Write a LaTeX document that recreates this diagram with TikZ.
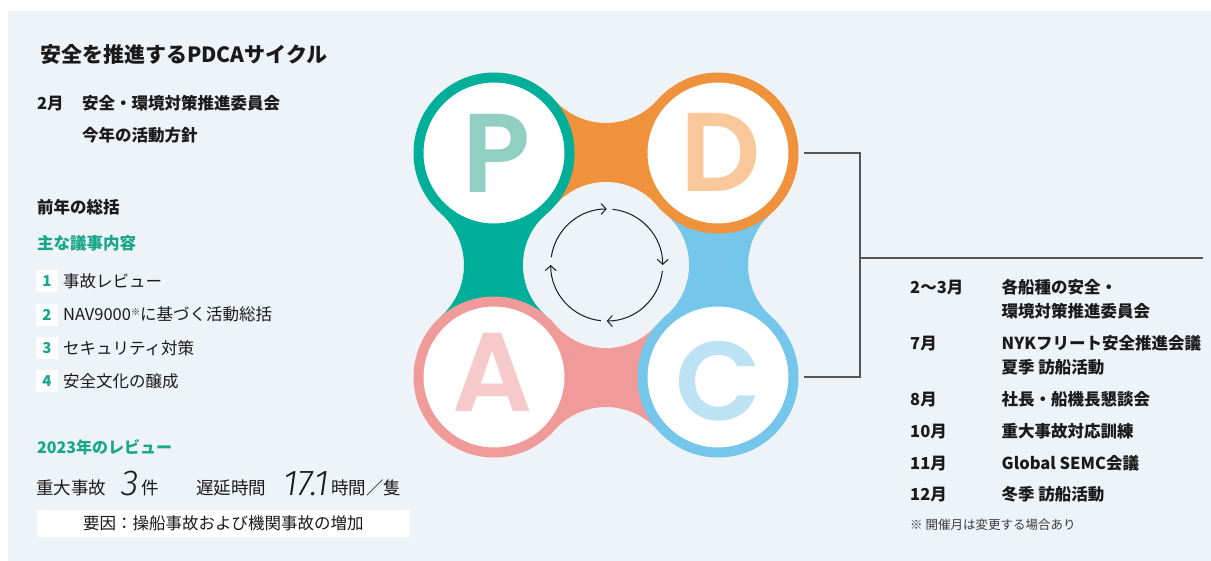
\documentclass[tikz,border=0pt]{standalone}
\usepackage{fontspec}
\setmainfont{Noto Sans CJK JP}
\newfontfamily\pdcafont{Poppins}[UprightFont={* SemiBold}]
\newfontfamily\numfont{Fira Sans}[UprightFont={* Light Italic},Numbers=Proportional]
\usetikzlibrary{arrows.meta}
\definecolor{panel}{HTML}{EEF3F8}
\definecolor{cteal}{HTML}{00AF9A}
\definecolor{corange}{HTML}{F0923B}
\definecolor{cblue}{HTML}{74C6EA}
\definecolor{cpink}{HTML}{F09B9A}
\definecolor{lP}{HTML}{92CFC3}
\definecolor{lD}{HTML}{F9C99B}
\definecolor{lA}{HTML}{F6CAC8}
\definecolor{lC}{HTML}{BDE2F4}
\definecolor{green}{HTML}{16A68A}
\definecolor{ink}{HTML}{1A1A1A}
\definecolor{conn}{HTML}{555555}
\tikzset{
  txt/.style={inner sep=0pt, anchor=base west, text=ink},
  bt/.style={txt, font=\fontsize{16.5}{18}\selectfont\bfseries},
  rt/.style={txt, font=\fontsize{16.5}{18}\selectfont},
  gt/.style={bt, text=green},
  mt/.style={txt, font=\fontsize{17.5}{19}\selectfont},
  bignum/.style={txt, font=\fontsize{36}{36}\selectfont\numfont},
  numbox/.style={fill=white, minimum width=22pt, minimum height=22pt, inner sep=0pt, text=green, font=\fontsize{15}{15}\selectfont\bfseries},
  ring/.style={circle, fill=white, line width=10pt, minimum size=151pt, inner sep=0pt},
  letter/.style={inner sep=0pt, font=\fontsize{112}{112}\selectfont\pdcafont},
  connline/.style={draw=conn, line width=1.3pt},
  cyc/.style={draw=ink, line width=1pt, -{Straight Barb[length=5pt,width=11pt]}},
}
\begin{document}
\begin{tikzpicture}[x=1pt,y=-1pt]
\useasboundingbox (0,0) rectangle (1211,560);
\fill[white] (0,0) rectangle (1211,560);
\fill[panel] (8,11) rectangle (1215,565);

% centres
\coordinate (cP) at (494,153);
\coordinate (cD) at (718,153);
\coordinate (cA) at (494,377);
\coordinate (cC) at (718,377);
\coordinate (M) at (606,265);
\coordinate (kT) at (606,54.05);
\coordinate (kL) at (395.05,265);
\coordinate (kR) at (816.95,265);
\coordinate (kB) at (606,475.95);

% connecting blobs
\fill[corange] (cP) -- ([shift={(138.54:68.95)}]kT) arc[start angle=138.54,end angle=41.46,radius=68.95] -- (cD) -- (M) -- cycle;
\fill[cteal] (cP) -- ([shift={(-48.54:68.95)}]kL) arc[start angle=-48.54,end angle=48.54,radius=68.95] -- (cA) -- (M) -- cycle;
\fill[cblue] (cD) -- ([shift={(228.54:68.95)}]kR) arc[start angle=228.54,end angle=131.46,radius=68.95] -- (cC) -- (M) -- cycle;
\fill[cpink] (cC) -- ([shift={(-41.46:68.95)}]kB) arc[start angle=-41.46,end angle=-138.54,radius=68.95] -- (cA) -- (M) -- cycle;

% central hole
\fill[panel] (555.11,205.40) -- (656.89,205.40) -- (665.60,214.11) -- (665.60,315.89) -- (656.89,324.60) -- (555.11,324.60) -- (546.40,315.89) -- (546.40,214.11) -- cycle;
\fill[panel] (606,249.04) circle[radius=67.04] (606,280.96) circle[radius=67.04] (590.04,265) circle[radius=67.04] (621.96,265) circle[radius=67.04];

% rings
\node[ring, draw=cteal] (ringP) at (cP) {};
\node[ring, draw=corange] (ringD) at (cD) {};
\node[ring, draw=cpink] (ringA) at (cA) {};
\node[ring, draw=cblue] (ringC) at (cC) {};

\node[letter, text=lP] (letP) at (497,153) {P};
\node[letter, text=lD] (letD) at (721,152) {D};
\node[letter, text=lA] (letA) at (493,372) {A};
\node[letter, text=lC] (letC) at (718.5,381) {C};

% cycle arrows
\coordinate (cyc) at (606.7,265);
\draw[cyc] ([shift={(188:56)}]cyc) arc[start angle=188,end angle=270,radius=56];
\draw[cyc] ([shift={(276:56)}]cyc) arc[start angle=276,end angle=360,radius=56];
\draw[cyc] ([shift={(6:56)}]cyc) arc[start angle=6,end angle=90,radius=56];
\draw[cyc] ([shift={(96:56)}]cyc) arc[start angle=96,end angle=180,radius=56];

% connectors
\coordinate (jD) at (860,153);
\coordinate (br) at (860,258);
\coordinate (brEnd) at (1203,258);
\draw[connline] ([xshift=5pt]ringD.east) -- (jD) |- ([xshift=5pt]ringC.east);
\draw[connline] (br) -- (brEnd);

% left texts
\node[txt, font=\fontsize{21}{22}\selectfont\bfseries] (title) at (40,62) {安全を推進するPDCAサイクル};
\node[bt] (m2) at (37,109.3) {2月};
\node[bt] (m2a) at (82,109.3) {安全・環境対策推進委員会};
\node[bt] (m2b) at (82,141.3) {今年の活動方針};
\node[bt] (prev) at (37,213.3) {前年の総括};
\node[gt] (main) at (37,249.3) {主な議事内容};

\node[numbox] (n1) at (47,281) {1};
\node[numbox] (n2) at (47,314.5) {2};
\node[numbox] (n3) at (47,348) {3};
\node[numbox] (n4) at (47,381) {4};
\node[rt] (i1) at (63,287.3) {事故レビュー};
\node[rt] (i2) at (63,320.8) {NAV9000{\fontsize{9}{9}\selectfont\raisebox{5pt}{※}}に基づく活動総括};
\node[rt] (i3) at (63,354.3) {セキュリティ対策};
\node[rt] (i4) at (63,387.3) {安全文化の醸成};

\node[gt, font=\fontsize{16}{18}\selectfont\bfseries] (rev) at (37,453) {2023年のレビュー};
\node[mt] (acc) at (36,494) {重大事故};
\node[bignum] (acc3) at (121,495) {3};
\node[mt] (accu) at (141.5,494) {件};
\node[mt] (del) at (196,494) {遅延時間};
\node[bignum] (del17) at (283,495) {17.1};
\node[mt] (delu) at (331,494) {時間／隻};
\node[fill=white, minimum width=373.3pt, minimum height=27.3pt, inner sep=0pt, text=ink, font=\fontsize{16.5}{18}\selectfont] (cause) at (223.35,523.65) {要因：操船事故および機関事故の増加};

% right list
\node[bt] (r1m) at (910,293.3) {2〜3月};
\node[bt] (r1a) at (1001.5,293.3) {各船種の安全・};
\node[bt] (r1b) at (1001.5,317.3) {環境対策推進委員会};
\node[bt] (r2m) at (910,349.3) {7月};
\node[bt] (r2a) at (1001.5,349.3) {NYKフリート安全推進会議};
\node[bt] (r2b) at (1001.5,373.3) {夏季 訪船活動};
\node[bt] (r3m) at (910,405.3) {8月};
\node[bt] (r3a) at (1001.5,405.3) {社長・船機長懇談会};
\node[bt] (r4m) at (910,437.3) {10月};
\node[bt] (r4a) at (1001.5,437.3) {重大事故対応訓練};
\node[bt] (r5m) at (910,469.3) {11月};
\node[bt] (r5a) at (1001.5,469.3) {Global SEMC会議};
\node[bt] (r6m) at (910,500.3) {12月};
\node[bt] (r6a) at (1001.5,500.3) {冬季 訪船活動};
\node[txt, font=\fontsize{12.5}{14}\selectfont, text=conn!70!black] (note) at (910,529.8) {※ 開催月は変更する場合あり};
\end{tikzpicture}
\end{document}
